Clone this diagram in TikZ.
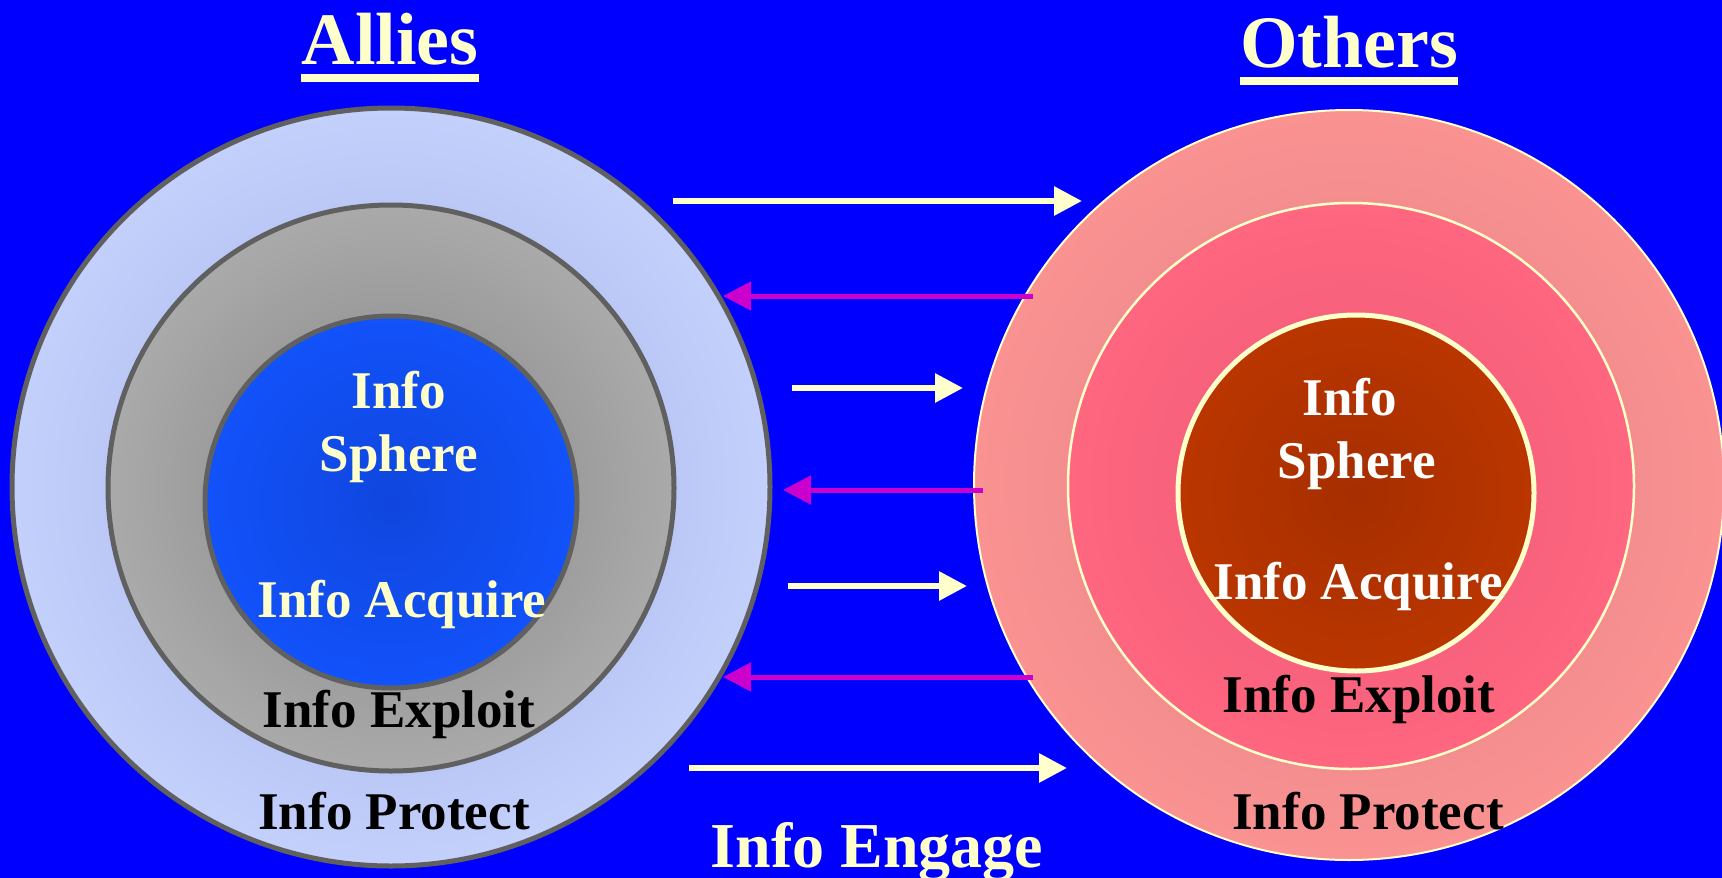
\documentclass[tikz,border=0pt]{standalone}
\usepackage{fontspec}
\setmainfont{Liberation Serif}
\usetikzlibrary{arrows.meta}

\definecolor{bgblue}{HTML}{0000FF}
\definecolor{paleyellow}{HTML}{FFFFCC}
\definecolor{ringgrey}{HTML}{606060}
\definecolor{arrowmagenta}{HTML}{CC00CC}

\tikzset{
  labeltext/.style={font=\bfseries\fontsize{53}{63}\selectfont, anchor=base, inner sep=0pt},
  titletext/.style={font=\bfseries\fontsize{74}{80}\selectfont, anchor=base, inner sep=0pt, text=paleyellow},
  outgoing/.style={draw=paleyellow, line width=6pt, -{Triangle[length=28pt,width=28pt]}},
  incoming/.style={draw=arrowmagenta, line width=5pt, -{Triangle[length=28pt,width=28pt]}},
}

\begin{document}
\begin{tikzpicture}[x=1pt, y=-1pt]
        \useasboundingbox (0,0) rectangle (1722,878);
        \fill[bgblue] (0,0) rectangle (1722,878);

        % allies rings
        \shadedraw[draw=ringgrey, line width=5pt, inner color={rgb,255:red,160;green,172;blue,222}, outer color={rgb,255:red,196;green,208;blue,252}] (391,487) circle[radius=379];
        \shadedraw[draw=ringgrey, line width=5pt, inner color={rgb,255:red,132;green,132;blue,132}, outer color={rgb,255:red,170;green,170;blue,170}] (391,488) circle[radius=283];
        \shadedraw[draw=ringgrey, line width=5pt, inner color={rgb,255:red,16;green,70;blue,222}, outer color={rgb,255:red,18;green,82;blue,250}] (391,502) circle[radius=186];

        % others rings
        \shadedraw[draw=paleyellow, line width=2pt, inner color={rgb,255:red,226;green,128;blue,128}, outer color={rgb,255:red,250;green,146;blue,146}] (1349,485) circle[radius=375];
        \shadedraw[draw=paleyellow, line width=2.5pt, inner color={rgb,255:red,236;green,90;blue,116}, outer color={rgb,255:red,255;green,102;blue,128}] (1351,486) circle[radius=283];
        \shadedraw[draw=paleyellow, line width=5pt, inner color={rgb,255:red,166;green,46;blue,0}, outer color={rgb,255:red,186;green,54;blue,0}] (1356,493) circle[radius=178];

        % titles
        \node[titletext] (allies) at (390,64) {Allies};
        \draw[paleyellow, line width=8pt] ([yshift=-14pt]allies.base west) -- ([yshift=-14pt]allies.base east);
        \node[titletext] (others) at (1349,67) {Others};
        \draw[paleyellow, line width=8pt] ([yshift=-14pt]others.base west) -- ([yshift=-14pt]others.base east);

        % ring labels
        \node[labeltext, text=paleyellow] (alliesinfo) at (399,408) {Info};
        \node[labeltext, text=paleyellow] (alliessphere) at (399,471) {Sphere};
        \node[labeltext, text=paleyellow] (alliesacquire) at (402,617) {Info Acquire};
        \node[labeltext, text=black] (alliesexploit) at (399,727) {Info Exploit};
        \node[labeltext, text=black] (alliesprotect) at (394,829) {Info Protect};

        \node[labeltext, text=white] (othersinfo) at (1350,415) {Info};
        \node[labeltext, text=white] (otherssphere) at (1357,478) {Sphere};
        \node[labeltext, text=white] (othersacquire) at (1358,599) {Info Acquire};
        \node[labeltext, text=black] (othersexploit) at (1359,712) {Info Exploit};
        \node[labeltext, text=black] (othersprotect) at (1368,829) {Info Protect};

        \node[labeltext, text=paleyellow, font=\bfseries\fontsize{64}{70}\selectfont] (engage) at (877,867) {Info Engage};

        % exchange arrows
        \coordinate (sendA) at (673,201);  \coordinate (recvA) at (1082,201);
        \coordinate (backA) at (1033,296); \coordinate (homeA) at (723,296);
        \coordinate (sendB) at (792,388);  \coordinate (recvB) at (963,388);
        \coordinate (backB) at (983,490);  \coordinate (homeB) at (783,490);
        \coordinate (sendC) at (788,586);  \coordinate (recvC) at (967,586);
        \coordinate (backC) at (1033,677); \coordinate (homeC) at (723,677);
        \coordinate (sendD) at (689,768);  \coordinate (recvD) at (1067,768);

        \draw[outgoing] (sendA) -- (recvA);
        \draw[incoming] (backA) -- (homeA);
        \draw[outgoing] (sendB) -- (recvB);
        \draw[incoming] (backB) -- (homeB);
        \draw[outgoing] (sendC) -- (recvC);
        \draw[incoming] (backC) -- (homeC);
        \draw[outgoing] (sendD) -- (recvD);
\end{tikzpicture}
\end{document}
